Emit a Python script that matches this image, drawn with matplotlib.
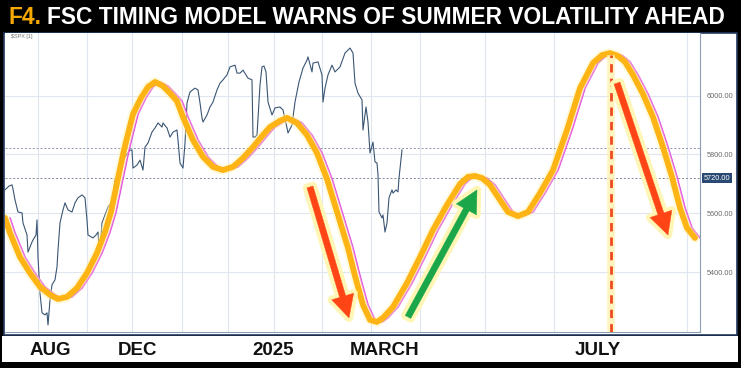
import matplotlib
matplotlib.use('Agg')
import matplotlib.pyplot as plt
import matplotlib.patheffects as pe
import matplotlib.transforms as mtransforms
from matplotlib.patches import Rectangle
from matplotlib import font_manager

# S&P 500 daily closes (x = position along chart)
spx_x = [5, 9, 12, 13, 15, 18, 22, 23, 27, 28, 32, 33, 36, 37, 38, 40, 42, 45, 47, 48,
         50, 52, 55, 57, 58, 60, 63, 65, 68, 72, 75, 78, 82, 85, 87, 88, 93, 96, 98, 99,
         100, 102, 108, 112, 115, 118, 122, 125, 130, 132, 133, 137, 140, 143, 145, 148, 152, 155, 158, 162,
         163, 167, 170, 173, 177, 178, 180, 183, 185, 187, 190, 195, 198, 200, 202, 203, 207, 210, 213, 217,
         220, 223, 227, 230, 235, 237, 240, 243, 248, 252, 253, 255, 257, 260, 262, 264, 266, 268, 272, 275,
         280, 283, 287, 288, 292, 295, 299, 303, 307, 308, 312, 313, 318, 322, 323, 325, 328, 332, 335, 340,
         345, 350, 353, 355, 358, 362, 363, 366, 368, 370, 373, 375, 377, 378, 379, 382, 383, 385, 387, 389,
         392, 393, 396, 398, 399, 402]
spx_y = [5680, 5693, 5697, 5683, 5646, 5605, 5602, 5568, 5527, 5469, 5503, 5510, 5527, 5578, 5452, 5330, 5263, 5256, 5263, 5222,
         5307, 5358, 5375, 5419, 5476, 5568, 5612, 5636, 5612, 5605, 5636, 5653, 5663, 5653, 5578, 5527, 5517, 5527, 5537, 5486,
         5476, 5568, 5622, 5639, 5714, 5731, 5781, 5792, 5815, 5815, 5754, 5764, 5781, 5747, 5825, 5839, 5876, 5890, 5907, 5893,
         5907, 5890, 5859, 5876, 5883, 5849, 5771, 5754, 5839, 5975, 6012, 6025, 6019, 5975, 5924, 5910, 5934, 5961, 5978, 6019,
         6042, 6053, 6070, 6097, 6103, 6076, 6076, 6086, 6059, 6053, 5859, 5859, 5866, 6036, 6097, 6100, 6080, 5978, 5934, 5958,
         5961, 5951, 5890, 5873, 5900, 5978, 6046, 6093, 6120, 6131, 6080, 6110, 6114, 6070, 5978, 6025, 6070, 6103, 6080, 6097,
         6144, 6161, 6144, 6042, 6008, 5985, 5883, 5961, 5910, 5805, 5842, 5775, 5771, 5731, 5605, 5585, 5595, 5537, 5568, 5653,
         5680, 5669, 5680, 5673, 5720, 5815]

# FSC timing model cycle
cycle_x = [5, 10, 20, 30, 40, 50, 58, 67, 77, 87, 97, 105, 111, 117, 124, 133, 141, 148, 155, 163,
           170, 177, 183, 193, 203, 213, 223, 233, 243, 253, 263, 270, 280, 287, 297, 307, 317, 327, 338, 348,
           355, 363, 370, 377, 383, 393, 407, 420, 433, 447, 460, 468, 475, 482, 490, 498, 508, 518, 528, 540,
           553, 567, 580, 593, 602, 610, 618, 625, 633, 643, 653, 663, 672, 680, 687, 695]
cycle_y = [5585, 5534, 5452, 5398, 5351, 5324, 5310, 5317, 5347, 5398, 5466, 5537, 5605, 5703, 5815, 5937, 5992, 6029, 6046, 6032,
           6008, 5981, 5927, 5849, 5792, 5758, 5747, 5758, 5788, 5825, 5866, 5893, 5914, 5924, 5907, 5866, 5805, 5717, 5595, 5483,
           5388, 5290, 5239, 5232, 5246, 5283, 5364, 5452, 5544, 5629, 5700, 5724, 5727, 5720, 5697, 5656, 5605, 5591, 5605, 5669,
           5747, 5883, 6025, 6110, 6137, 6144, 6134, 6114, 6070, 6005, 5927, 5825, 5724, 5619, 5551, 5517]

grid_x = [38, 87, 132, 182, 228, 274, 322, 371, 420, 485, 554, 687]
price_ticks = [5400, 5600, 5800, 6000]
last_price = 5720
last_close = 5822
month_labels = ['AUG', 'DEC', '2025', 'MARCH', 'JULY']
month_x = [50, 138, 273, 385, 598]

# annotation arrows: (tail, tip)
down_arrow_1 = ((310, 5690), (349, 5246))
up_arrow = ((408, 5249), (477, 5680))
down_arrow_2 = ((617, 6042), (668, 5527))
peak_x = 611
peak_y = 6137

names = {f.name for f in font_manager.fontManager.ttflist}
title_font = 'Liberation Sans Narrow' if 'Liberation Sans Narrow' in names else 'Liberation Sans'
base_font = 'Liberation Sans'

W, H = 741, 368
fig = plt.figure(figsize=(W / 100, H / 100), dpi=100, facecolor='black')

# white chart panel and label band
fig.patches.append(Rectangle((4 / W, 1 - 335 / H), 733 / W, 302 / H, transform=fig.transFigure,
                             facecolor='white', edgecolor='#24375c', lw=1.2, zorder=-10))
fig.patches.append(Rectangle((2 / W, 1 - 362 / H), 736 / W, 26 / H, transform=fig.transFigure,
                             facecolor='white', edgecolor='none', zorder=-10))

ax = fig.add_axes([5 / W, 1 - 332 / H, 695 / W, 299 / H])
ax.set_facecolor('white')
ax.set_xlim(5, 700)
ax.set_ylim(5198, 6212)

for s in ['top', 'left']:
    ax.spines[s].set_visible(False)
ax.spines['right'].set_color('#8c9db8')
ax.spines['bottom'].set_color('#8c9db8')
ax.spines['right'].set_linewidth(0.8)
ax.spines['bottom'].set_linewidth(0.8)

ax.set_xticks(grid_x)
ax.set_xticklabels([])
ax.yaxis.tick_right()
ax.set_yticks(price_ticks)
ax.set_yticklabels(['%.2f' % p for p in price_ticks], fontsize=5.3, color='#6a6a6a', family=base_font)
ax.tick_params(length=0, pad=5)
ax.grid(True, color='#dfe6f0', lw=0.8)
ax.set_axisbelow(True)

ax.axhline(last_close, color='#8a95a8', lw=0.7, ls=(0, (2, 2)), zorder=1)
ax.axhline(last_price, color='#7d889c', lw=0.7, ls=(0, (2, 2)), zorder=1)

ybl = mtransforms.blended_transform_factory(ax.transAxes, ax.transData)
ax.text(1.005, last_price, '%.2f' % last_price, transform=ybl, fontsize=5.3, color='white',
        va='center', ha='left', family=base_font,
        bbox=dict(boxstyle='square,pad=0.25', fc='#2a4a73', ec='none'))

# price line
ax.plot(spx_x, spx_y, color='#3a5674', lw=0.8, zorder=2)

# cycle line (magenta shadow + orange)
shift = mtransforms.offset_copy(ax.transData, fig=fig, x=5, y=0, units='dots')
ax.plot(cycle_x, cycle_y, color='#e040e8', lw=1.2, transform=shift, zorder=3,
        solid_capstyle='round')
ax.plot(cycle_x, cycle_y, color='#fdb414', lw=4.2, zorder=4, solid_capstyle='round',
        solid_joinstyle='round',
        path_effects=[pe.Stroke(linewidth=7, foreground='#fff4b0', alpha=0.45), pe.Normal()])

# dashed vertical line at the peak
ax.plot([peak_x, peak_x], [5198, peak_y], color='#fff2b0', lw=5.5, alpha=0.8, zorder=5,
        solid_capstyle='butt')
ax.plot([peak_x, peak_x], [5198, peak_y], color='#ef4a22', lw=2, ls=(0, (3, 2.2)), zorder=6)

glow = [pe.Stroke(linewidth=6, foreground='#fff6b5'), pe.Normal()]
for (tail, tip), col in [(down_arrow_1, '#ff4515'), (up_arrow, '#1ca64a'), (down_arrow_2, '#ff4515')]:
    a = ax.annotate('', xy=tip, xytext=tail, zorder=7,
                    arrowprops=dict(arrowstyle='simple,head_length=1.6,head_width=1.65,tail_width=0.45',
                                    mutation_scale=10, color=col, lw=0.3, shrinkA=0, shrinkB=0))
    a.arrow_patch.set_path_effects(glow)
    a.arrow_patch.set_zorder(7)

# small corner texts
ax.text(0.008, 0.995, '$SPX [1]', transform=ax.transAxes, fontsize=4, color='#777777',
        va='top', ha='left', family=base_font)

# month labels in the lower band
xbl = mtransforms.blended_transform_factory(ax.transData, ax.transAxes)
for lab, xm in zip(month_labels, month_x):
    ax.text(xm, -0.062, lab, transform=xbl, ha='center', va='center', fontsize=13.5,
            fontweight='bold', color='#111111', family=base_font, clip_on=False)

# title
ty = 1 - 17 / H
r = fig.canvas.get_renderer()
fs = 20
t1 = fig.text(8 / W, ty, 'F4.', color='#f7a800', fontsize=fs, fontweight='bold',
              family=title_font, va='center', ha='left')
t2 = fig.text(0, ty, 'FSC TIMING MODEL WARNS OF SUMMER VOLATILITY AHEAD', color='white',
              fontsize=fs, fontweight='bold', family=title_font, va='center', ha='left')
w1 = t1.get_window_extent(r).width
w2 = t2.get_window_extent(r).width
scale = (727 - 8) / (w1 + 6 + w2)
fs = fs * scale
t1.set_fontsize(fs)
t2.set_fontsize(fs)
w1 = t1.get_window_extent(r).width
t2.set_x((8 + w1 + 6) / W)

fig.savefig('out.png', dpi=100, facecolor='black')
